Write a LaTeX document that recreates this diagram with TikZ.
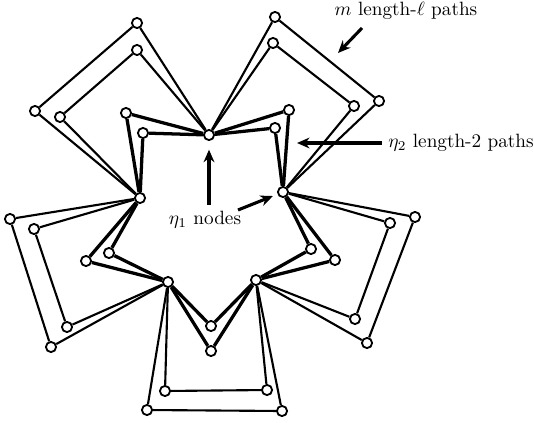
\documentclass[tikz,border=0pt]{standalone}
\usepackage{amsmath,amssymb}
\usetikzlibrary{arrows.meta}

\begin{document}
\begin{tikzpicture}[
    x=0.52pt, y=-0.52pt,
    vtx/.style={circle, draw=black, fill=white, line width=0.95pt, inner sep=0pt, minimum size=5.3pt},
    shortpath/.style={line width=1.7pt},
    longpath/.style={line width=1.1pt},
    pointer/.style={-{Stealth[length=6.5pt, width=5.6pt]}, line width=1.6pt}
]
\useasboundingbox (0,0) rectangle (534,422);

% eta_1 nodes
\node[vtx] (n1) at (209,135) {};
\node[vtx] (n2) at (283,192) {};
\node[vtx] (n3) at (256,280) {};
\node[vtx] (n4) at (168,282) {};
\node[vtx] (n5) at (140,198) {};

% middle nodes of the length-2 paths
\node[vtx] (s12i) at (275,128) {};
\node[vtx] (s12o) at (289,110) {};
\node[vtx] (s23i) at (311,249) {};
\node[vtx] (s23o) at (335,260) {};
\node[vtx] (s34i) at (211,326) {};
\node[vtx] (s34o) at (211,351) {};
\node[vtx] (s45i) at (109,253) {};
\node[vtx] (s45o) at (86,261) {};
\node[vtx] (s51i) at (143,133) {};
\node[vtx] (s51o) at (126,113) {};

% inner nodes of the length-l paths
\node[vtx] (l12a) at (275,17) {};
\node[vtx] (l12b) at (379,101) {};
\node[vtx] (l12c) at (273,43) {};
\node[vtx] (l12d) at (354,106) {};
\node[vtx] (l23a) at (415,217) {};
\node[vtx] (l23b) at (367,343) {};
\node[vtx] (l23c) at (390,223) {};
\node[vtx] (l23d) at (355,319) {};
\node[vtx] (l34a) at (282,411) {};
\node[vtx] (l34b) at (147,410) {};
\node[vtx] (l34c) at (267,390) {};
\node[vtx] (l34d) at (165,391) {};
\node[vtx] (l45a) at (51,347) {};
\node[vtx] (l45b) at (10,219) {};
\node[vtx] (l45c) at (67,327) {};
\node[vtx] (l45d) at (34,229) {};
\node[vtx] (l51a) at (35,111) {};
\node[vtx] (l51b) at (137,23) {};
\node[vtx] (l51c) at (60,117) {};
\node[vtx] (l51d) at (137,50) {};

% length-2 paths
\draw[shortpath] (n1) -- (s12i) -- (n2);
\draw[shortpath] (n1) -- (s12o) -- (n2);
\draw[shortpath] (n2) -- (s23i) -- (n3);
\draw[shortpath] (n2) -- (s23o) -- (n3);
\draw[shortpath] (n3) -- (s34i) -- (n4);
\draw[shortpath] (n3) -- (s34o) -- (n4);
\draw[shortpath] (n4) -- (s45i) -- (n5);
\draw[shortpath] (n4) -- (s45o) -- (n5);
\draw[shortpath] (n5) -- (s51i) -- (n1);
\draw[shortpath] (n5) -- (s51o) -- (n1);

% length-l paths
\draw[longpath] (n1) -- (l12a) -- (l12b) -- (n2);
\draw[longpath] (n1) -- (l12c) -- (l12d) -- (n2);
\draw[longpath] (n2) -- (l23a) -- (l23b) -- (n3);
\draw[longpath] (n2) -- (l23c) -- (l23d) -- (n3);
\draw[longpath] (n3) -- (l34a) -- (l34b) -- (n4);
\draw[longpath] (n3) -- (l34c) -- (l34d) -- (n4);
\draw[longpath] (n4) -- (l45a) -- (l45b) -- (n5);
\draw[longpath] (n4) -- (l45c) -- (l45d) -- (n5);
\draw[longpath] (n5) -- (l51a) -- (l51b) -- (n1);
\draw[longpath] (n5) -- (l51c) -- (l51d) -- (n1);

% labels
\node (mlbl) at (406,11) {$m$ length-$\ell$ paths};
\node (etatwo) at (461,143) {$\eta_2$ length-2 paths};
\node (etaone) at (205,220) {$\eta_1$ nodes};

\coordinate (mtail) at (362,28);
\coordinate (mtip) at (338,53);
\coordinate (etatwotip) at (297,143);
\coordinate (diagtail) at (238,210);

\draw[pointer] (mtail) -- (mtip);
\draw[pointer] (etatwo.west) -- (etatwotip);
\draw[pointer, shorten >=4.5pt] (etaone.north -| n1) -- (n1);
\draw[pointer, shorten >=2.5pt] (diagtail) -- (n2);

\end{tikzpicture}
\end{document}
